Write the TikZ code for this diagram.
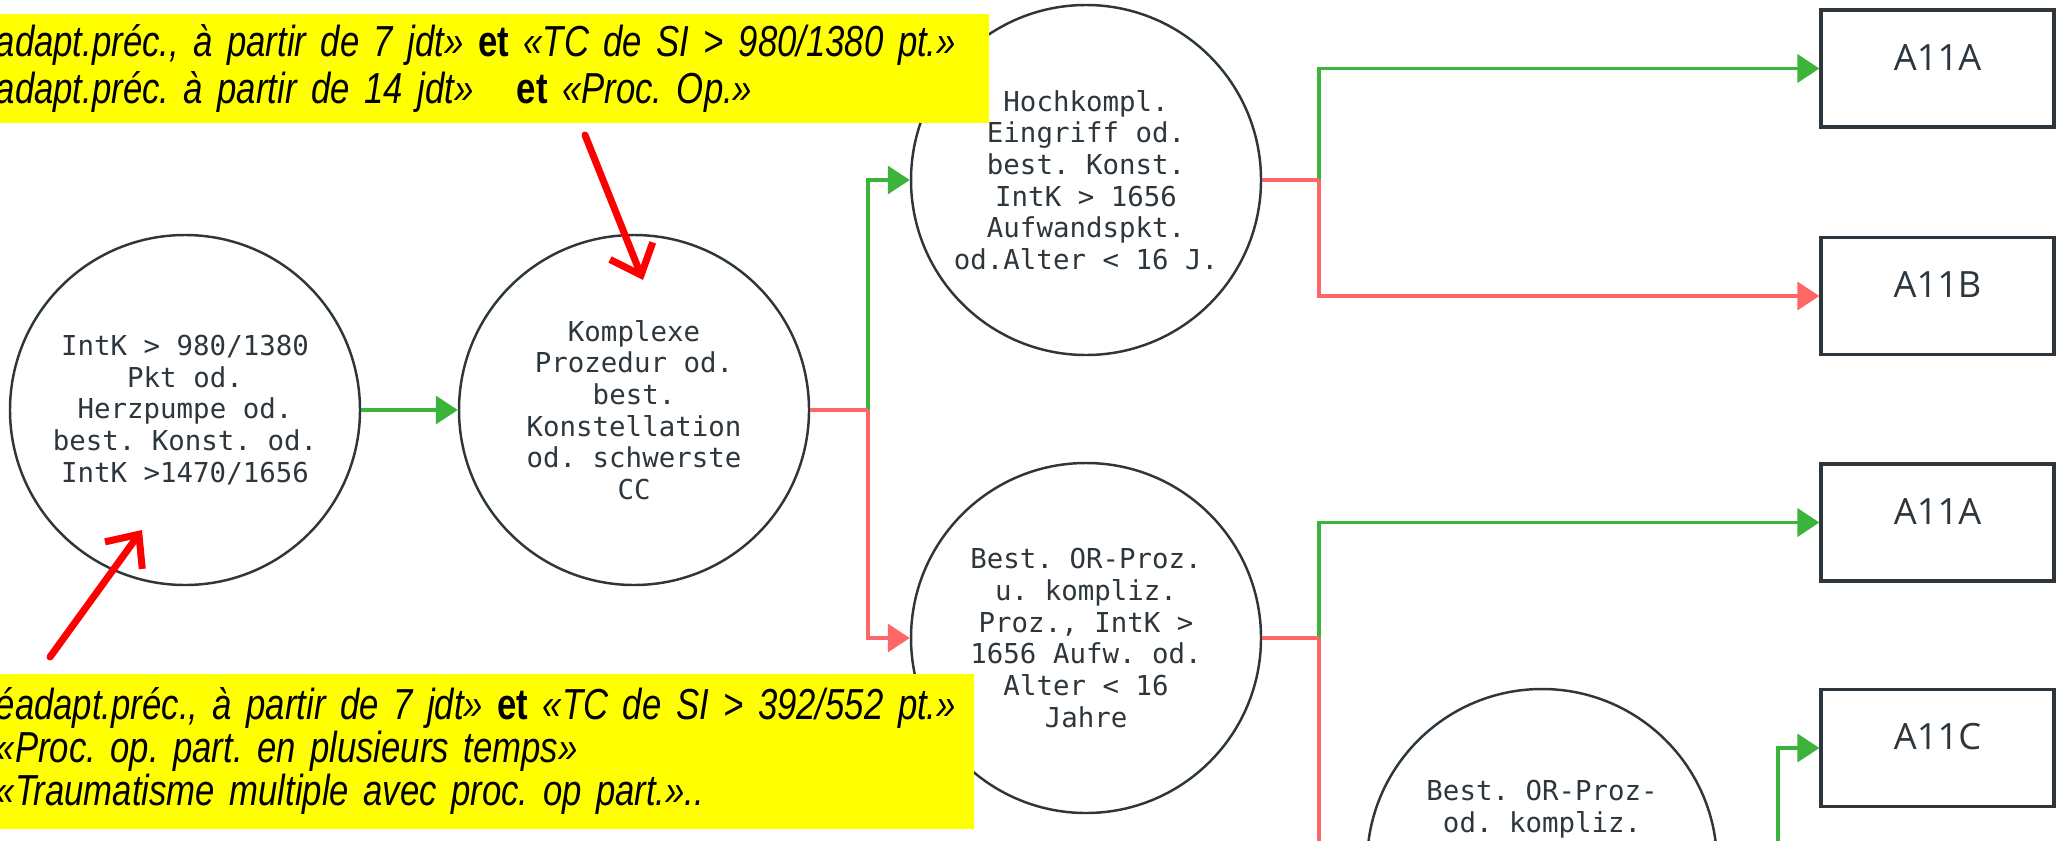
\documentclass[tikz,border=0pt]{standalone}
\usepackage{fontspec}
\setmainfont{Open Sans}
\setmonofont{DejaVu Sans Mono}
\newfontfamily\notefont[FakeStretch=0.8]{Liberation Sans}
\usepackage{xcolor}
\definecolor{verde}{RGB}{60,180,60}
\definecolor{rojo}{RGB}{255,102,102}
\definecolor{rojoVivo}{RGB}{255,0,0}
\definecolor{pizarra}{RGB}{44,54,60}
\definecolor{amarillo}{RGB}{255,255,0}
\usepackage{tikz}
\usetikzlibrary{arrows,arrows.meta,shapes,calc,positioning}
\tikzstyle{decision}=[circle, draw=pizarra, line width=0.7pt,
                      minimum size=3.5cm, inner sep=0pt, align=center,
                      text=pizarra, font=\ttfamily\fontsize{7.8}{9}\selectfont]
\tikzstyle{drg}     =[rectangle, draw=pizarra, line width=0.9pt,
                      minimum width=2.33cm, minimum height=1.17cm,
                      text=pizarra, font=\fontsize{10.3}{12}\selectfont,
                      text height=0.26cm, text depth=0.23cm]
\tikzstyle{edgeYes} =[draw=verde, line width=1pt,
                      >={Triangle[length=0.22cm,width=0.28cm]}]
\tikzstyle{edgeNo}  =[draw=rojo, line width=1pt,
                      >={Triangle[length=0.22cm,width=0.28cm]}]
\tikzstyle{note}    =[fill=amarillo, anchor=north west, align=left,
                      inner xsep=0.1cm, inner ysep=0pt,
                      font=\frenchspacing\notefont\itshape\fontsize{12.35}{13.4}\selectfont]
\tikzstyle{hint}    =[draw=rojoVivo, line width=2pt, line cap=round,
                      -{Straight Barb[length=0.26cm,width=0.46cm]}]
\begin{document}
\begin{tikzpicture}

        \useasboundingbox (0,0) rectangle (20.62,-8.40);
        \clip (0,0) rectangle (20.62,-8.40);

        \begin{scope}[]
            \draw (1.85,-4.10) node (c1) [decision] {IntK > 980/1380\\Pkt od.\\Herzpumpe od.\\best. Konst. od.\\IntK >1470/1656};
            \draw (6.34,-4.10) node (c2) [decision] {Komplexe\\Prozedur od.\\best.\\Konstellation\\od. schwerste\\CC};
            \draw (10.86,-1.80) node (c3) [decision] {Hochkompl.\\Eingriff od.\\best. Konst.\\IntK > 1656\\Aufwandspkt.\\od.Alter < 16 J.};
            \draw (10.86,-6.38) node (c4) [decision] {Best. OR-Proz.\\u. kompliz.\\Proz., IntK >\\1656 Aufw. od.\\Alter < 16\\Jahre};
            \draw (15.42,-8.64) node (c5) [decision,text depth=1.15cm] {Best. OR-Proz-\\od. kompliz.};

            \draw (19.375,-0.685) node (b1) [drg] {A11A};
            \draw (19.375,-2.96) node (b2) [drg] {A11B};
            \draw (19.375,-5.225) node (b3) [drg] {A11A};
            \draw (19.375,-7.48) node (b4) [drg] {A11C};
        \end{scope}

        \begin{scope}[]
            \coordinate (j1) at (8.68,-4.10);
            \coordinate (j2) at (13.19,-1.80);
            \coordinate (j3) at (13.19,-6.38);
            \coordinate (j4) at (17.78,-8.64);
            \coordinate (out3) at (13.19,-8.60);

            \draw [edgeYes,->] (c1) to (c2);
            \draw [edgeYes,->] (j1) |- (c3.west);
            \draw [edgeNo,->] (j1) |- (c4.west);
            \draw [edgeNo] (c2.east) -- (j1);

            \foreach \j/\y in {j2/b1, j3/b3}
                \draw [edgeYes,->] (\j) |- (\y.west);
            \draw [edgeNo,->] (j2) |- (b2.west);
            \draw [edgeNo] (j3) -- (out3);
            \draw [edgeNo] (c3.east) -- (j2);
            \draw [edgeNo] (c4.east) -- (j3);

            \draw [edgeYes,->] (j4) |- (b4.west);
            \draw [edgeNo] (c5.east) -- (j4);
        \end{scope}

        \begin{scope}[]
            \draw (-0.15,-0.13) node (n1) [note,text width=9.83cm,minimum height=1.09cm]
                {adapt.préc., à partir de 7 jdt» {\upshape\bfseries et} «TC de SI > 980/1380 pt.»\\
                 adapt.préc. à partir de 14 jdt»\quad{\upshape\bfseries et} «Proc. Op.»};
            \draw (-0.15,-6.73) node (n2) [note,text width=9.68cm,minimum height=1.55cm,
                                          font=\frenchspacing\notefont\itshape\fontsize{12.35}{12.3}\selectfont]
                {éadapt.préc., à partir de 7 jdt» {\upshape\bfseries et} «TC de SI > 392/552 pt.»\\
                 «Proc. op. part. en plusieurs temps»\\
                 «Traumatisme multiple avec proc. op part.»..};

            \coordinate (h1) at (5.85,-1.35);
            \coordinate (h2) at (6.43,-2.80);
            \coordinate (h3) at (0.50,-6.57);
            \coordinate (h4) at (1.42,-5.30);
            \draw [hint] (h1) -- (h2);
            \draw [hint] (h3) -- (h4);
        \end{scope}

\end{tikzpicture}
\end{document}
